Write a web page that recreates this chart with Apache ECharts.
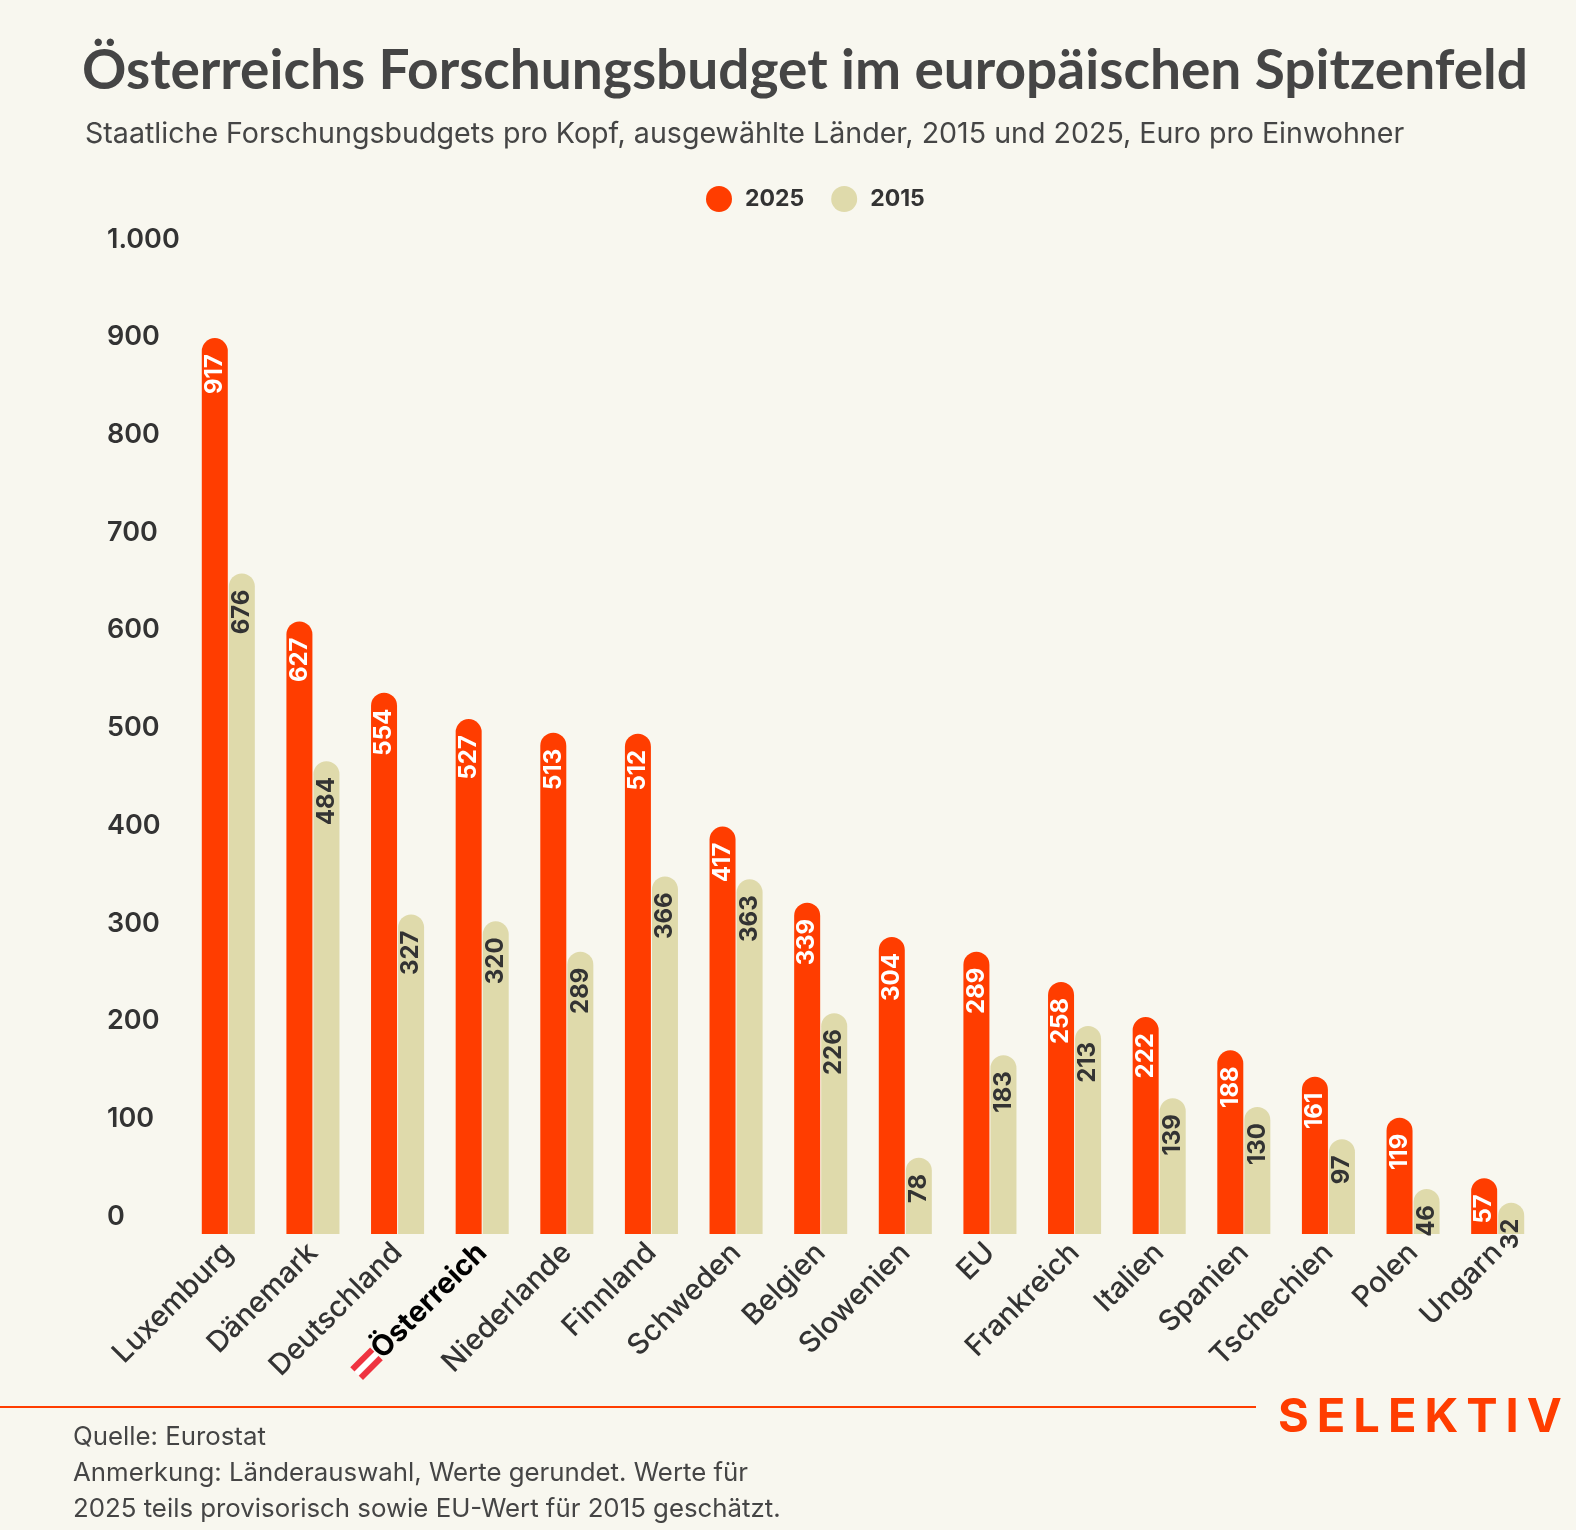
<!DOCTYPE html>
<html>
<head>
<meta charset="utf-8">
<style>
  html, body { margin: 0; padding: 0; background: #F8F7EF; }
  #chart { width: 1576px; height: 1530px; }
</style>
<script src="https://cdn.jsdelivr.net/npm/echarts@6/dist/echarts.min.js"></script>
</head>
<body>
<div id="chart"></div>
<script>
const countries = ['Luxemburg', 'Dänemark', 'Deutschland', 'Österreich', 'Niederlande', 'Finnland',
  'Schweden', 'Belgien', 'Slowenien', 'EU', 'Frankreich', 'Italien', 'Spanien', 'Tschechien', 'Polen', 'Ungarn']
const values2025 = [917, 627, 554, 527, 513, 512, 417, 339, 304, 289, 258, 222, 188, 161, 119, 57]
const values2015 = [676, 484, 327, 320, 289, 366, 363, 226, 78, 183, 213, 139, 130, 97, 46, 32]
const yTicks = [0, 1000, 100]   // min, max, interval

const RED = '#FF3D00'
const BEIGE = '#DFDAAB'
const TEXT = '#454545'
const FONT = 'Inter, "Noto Sans", sans-serif'
const TITLE_FONT = 'Lato, "Noto Sans", sans-serif'

// small red-white-red flag for the Austria label
function makeFlag() {
  const c = document.createElement('canvas')
  c.width = 26; c.height = 18
  const g = c.getContext('2d')
  g.fillStyle = '#EF3340'; g.fillRect(0, 0, 26, 18)
  g.fillStyle = '#fff'; g.fillRect(0, 6, 26, 6)
  return c
}
const flag = makeFlag()

// brand mark, letters spaced out
const brand = 'SELEKTIV'.split('').map(ch => '{l|' + ch + '}').join('')

const chart = echarts.init(document.getElementById('chart'))

function barLabel(color) {
  return {
    show: true,
    position: 'insideTop',
    rotate: 90,
    align: 'right',
    verticalAlign: 'middle',
    distance: 16,
    color: color,
    fontFamily: FONT,
    fontSize: 24,
    fontWeight: 'bold'
  }
}

chart.setOption({
  backgroundColor: '#F8F7EF',
  textStyle: { fontFamily: FONT },
  title: [
    {
      text: 'Österreichs Forschungsbudget im europäischen Spitzenfeld',
      left: 77, top: 39,
      textStyle: { fontFamily: TITLE_FONT, fontSize: 55, fontWeight: 'bold', color: TEXT }
    },
    {
      text: 'Staatliche Forschungsbudgets pro Kopf, ausgewählte Länder, 2015 und 2025, Euro pro Einwohner',
      left: 80, top: 115,
      textStyle: { fontFamily: FONT, fontSize: 28.6, fontWeight: 'normal', color: TEXT }
    },
    {
      text: 'Quelle: Eurostat\nAnmerkung: Länderauswahl, Werte gerundet. Werte für\n2025 teils provisorisch sowie EU-Wert für 2015 geschätzt.',
      left: 68, top: 1414,
      textStyle: { fontFamily: FONT, fontSize: 25.8, fontWeight: 'normal', color: TEXT, lineHeight: 36 }
    },
    {
      text: brand,
      left: 1273, top: 1389,
      textStyle: {
        rich: { l: { fontFamily: FONT, fontSize: 47, fontWeight: 'bold', color: RED, padding: [0, 8, 0, 0] } }
      }
    }
  ],
  graphic: [
    { type: 'line', shape: { x1: 0, y1: 1407, x2: 1256, y2: 1407 }, style: { stroke: RED, lineWidth: 2 } }
  ],
  legend: {
    top: 181,
    left: 701,
    icon: 'circle',
    itemWidth: 26,
    itemHeight: 26,
    itemGap: 27,
    textStyle: { fontFamily: FONT, fontSize: 23, fontWeight: 'bold', color: '#333', padding: [0, 0, 0, 8] },
    data: ['2025', '2015']
  },
  grid: { left: 186, right: 36, top: 257, bottom: 296, containLabel: false },
  xAxis: {
    type: 'category',
    data: countries,
    axisLine: { show: false },
    axisTick: { show: false },
    axisLabel: {
      interval: 0,
      rotate: 45,
      margin: 14,
      fontFamily: FONT,
      fontSize: 29,
      fontWeight: 500,
      color: '#333',
      formatter: v => v === 'Österreich' ? '{flag| }{hl|' + v + '}' : v,
      rich: {
        flag: { width: 26, height: 18, backgroundColor: { image: flag }, padding: [0, 2, 0, 0] },
        hl: { fontFamily: FONT, fontSize: 29, fontWeight: 'bold', color: '#000' }
      }
    }
  },
  yAxis: {
    type: 'value',
    min: yTicks[0],
    max: yTicks[1],
    interval: yTicks[2],
    splitLine: { show: false },
    axisLine: { show: false },
    axisTick: { show: false },
    axisLabel: {
      align: 'left',
      margin: 79,
      verticalAlign: 'bottom',
      padding: [0, 0, 4, 0],
      fontFamily: FONT,
      fontSize: 27,
      fontWeight: 600,
      color: '#333',
      formatter: v => v >= 1000 ? (v / 1000) + '.000' : String(v)
    }
  },
  series: [
    {
      name: '2025',
      type: 'bar',
      data: values2025,
      barWidth: 26,
      barGap: '4%',
      itemStyle: { color: RED, borderRadius: [13, 13, 0, 0] },
      label: barLabel('#fff')
    },
    {
      name: '2015',
      type: 'bar',
      data: values2015,
      barWidth: 26,
      itemStyle: { color: BEIGE, borderRadius: [13, 13, 0, 0] },
      label: barLabel('#333')
    }
  ]
})
</script>
</body>
</html>
